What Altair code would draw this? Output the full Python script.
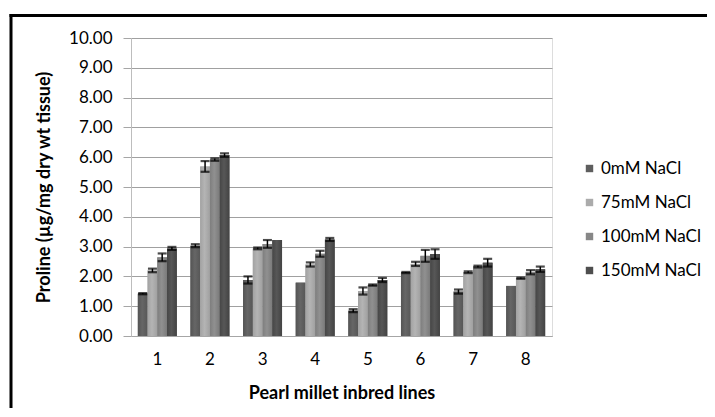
import altair as alt
import pandas as pd

lines = ["1", "2", "3", "4", "5", "6", "7", "8"]
treatments = ["0mM NaCl", "75mM NaCl", "100mM NaCl", "150mM NaCl"]
v0 = [1.42, 3.03, 1.88, 1.79, 0.85, 2.13, 1.49, 1.68]
v75 = [2.20, 5.69, 2.94, 2.40, 1.51, 2.42, 2.14, 1.94]
v100 = [2.64, 5.92, 3.09, 2.76, 1.71, 2.69, 2.33, 2.14]
v150 = [2.94, 6.07, 3.22, 3.24, 1.88, 2.75, 2.46, 2.24]
e0 = [0.02, 0.05, 0.12, 0.0, 0.05, 0.02, 0.07, 0.0]
e75 = [0.06, 0.18, 0.03, 0.07, 0.12, 0.07, 0.03, 0.02]
e100 = [0.13, 0.04, 0.13, 0.10, 0.02, 0.20, 0.03, 0.07]
e150 = [0.05, 0.06, 0.0, 0.05, 0.07, 0.16, 0.13, 0.09]
y_ticks = [0, 1, 2, 3, 4, 5, 6, 7, 8, 9, 10]
colors = ["#5e5e5e", "#ababab", "#878787", "#4e4e4e"]
grad_stops = [
    ["#545454", "#666666", "#575757"],
    ["#a2a2a2", "#b4b4b4", "#a0a0a0"],
    ["#7e7e7e", "#909090", "#7a7a7a"],
    ["#464646", "#575757", "#434343"],
]

rows = []
for t, vals, errs in zip(treatments, [v0, v75, v100, v150], [e0, e75, e100, e150]):
    for l, v, e in zip(lines, vals, errs):
        rows.append({"line": l, "treatment": t, "value": v, "lo": v - e, "hi": v + e, "err": e})
df = pd.DataFrame(rows)
df_err = df[df["err"] > 0]

FONT = "Lato"

x_axis = alt.Axis(title="Pearl millet inbred lines", labelAngle=0, ticks=False,
                  labelPadding=15, titlePadding=17, labelFontSize=17,
                  titleFontSize=18, titleFontWeight="bold", domainColor="#a6a6a6",
                  labelColor="#000000", titleColor="#000000")
x_scale = alt.Scale(paddingInner=0.26, paddingOuter=0.13)
y_axis = alt.Axis(title="Proline  (µg/mg dry wt tissue)", values=y_ticks, tickCount=11,
                  format=".2f", tickSize=8, tickColor="#a6a6a6", domainColor="#bdbdbd",
                  gridColor="#a0a0a0", labelPadding=11, labelFontSize=17,
                  labelOverlap=False, labelColor="#000000",
                  titleFontSize=18, titleFontWeight="bold", titlePadding=15,
                  titleColor="#000000")
y_scale = alt.Scale(domain=[0, 10], nice=False)


def X():
    return alt.X("line:N", sort=lines, scale=x_scale, axis=x_axis)


def Y(field):
    return alt.Y(f"{field}:Q", scale=y_scale, axis=y_axis)


xo = alt.XOffset("treatment:N", sort=treatments)

bars = alt.Chart(df).mark_bar().encode(
    x=X(), xOffset=xo, y=Y("value"),
    color=alt.Color("treatment:N", sort=treatments,
                    scale=alt.Scale(domain=treatments, range=colors),
                    legend=alt.Legend(title=None, orient="none", legendX=450, legendY=122,
                                      symbolType="square", symbolSize=55, symbolStrokeWidth=0,
                                      labelFontSize=17, rowPadding=16, labelColor="#000000",
                                      labelFont=FONT, labelOffset=3)),
)

grad_layers = []
for t, st in zip(treatments, grad_stops):
    g = {"gradient": "linear", "x1": 0, "x2": 1, "y1": 0, "y2": 0,
         "stops": [{"offset": 0, "color": st[0]}, {"offset": 0.45, "color": st[1]},
                   {"offset": 1, "color": st[2]}]}
    grad_layers.append(
        alt.Chart(df[df["treatment"] == t]).mark_bar(color=g).encode(
            x=X(), xOffset=xo, y=Y("value")))

rule = alt.Chart(df_err).mark_rule(color="black", strokeWidth=1.5).encode(
    x=X(), xOffset=xo, y=Y("lo"), y2="hi:Q")
cap_lo = alt.Chart(df_err).mark_tick(color="black", thickness=2.2, size=9).encode(
    x=X(), xOffset=xo, y=Y("lo"))
cap_hi = alt.Chart(df_err).mark_tick(color="black", thickness=2.2, size=9).encode(
    x=X(), xOffset=xo, y=Y("hi"))

one = pd.DataFrame({"a": [0]})
frame_top = alt.Chart(one).mark_rule(color="black", strokeWidth=3).encode(
    x=alt.value(-121.5), x2=alt.value(600), y=alt.value(-22.5))
frame_left = alt.Chart(one).mark_rule(color="black", strokeWidth=3).encode(
    x=alt.value(-120), y=alt.value(-24), y2=alt.value(400))

chart = alt.layer(bars, *grad_layers, rule, cap_lo, cap_hi, frame_top, frame_left).properties(
    width=421, height=298,
    autosize=alt.AutoSizeParams(type="none"),
    padding={"left": 123, "top": 30, "right": 155, "bottom": 72},
).configure_view(stroke=None).configure(font=FONT)

chart.save("out.html", embed_options={"renderer": "svg", "actions": False})
